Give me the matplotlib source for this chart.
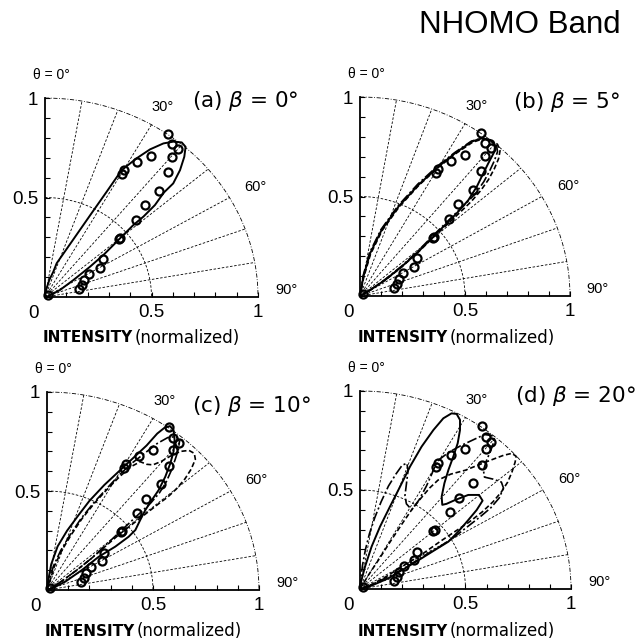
import numpy as np
import matplotlib
matplotlib.use("Agg")
import matplotlib.pyplot as plt

plt.rcParams['font.family'] = ['Liberation Sans', 'DejaVu Sans']
plt.rcParams['mathtext.fontset'] = 'custom'
plt.rcParams['mathtext.it'] = 'DejaVu Sans:italic'
plt.rcParams['mathtext.rm'] = 'DejaVu Sans'

# experimental points (same in every panel), normalized intensity components
EXP_X = [0.577, 0.595, 0.623, 0.595, 0.498, 0.433, 0.371, 0.362, 0.576, 0.537, 0.468,
         0.426, 0.354, 0.348, 0.271, 0.258, 0.207, 0.185, 0.174, 0.160, 0.016]
EXP_Y = [0.821, 0.769, 0.742, 0.705, 0.709, 0.677, 0.638, 0.616, 0.626, 0.534, 0.461,
         0.387, 0.298, 0.292, 0.189, 0.147, 0.117, 0.085, 0.062, 0.039, 0.010]

# (a) beta = 0
A_SOLID_X = [0, 0.005, 0.020, 0.039, 0.055, 0.130, 0.210, 0.290, 0.360, 0.430, 0.493, 0.556,
             0.603, 0.642, 0.660, 0.654, 0.634, 0.602, 0.558, 0.516, 0.462, 0.415, 0.368,
             0.321, 0.274, 0.211, 0.133, 0.070, 0.016, 0]
A_SOLID_Y = [0, 0.035, 0.085, 0.127, 0.170, 0.285, 0.408, 0.530, 0.638, 0.697, 0.742, 0.772,
             0.781, 0.777, 0.755, 0.705, 0.638, 0.571, 0.525, 0.462, 0.404, 0.362, 0.312,
             0.261, 0.211, 0.152, 0.085, 0.035, 0.005, 0]

# (b) beta = 5
B_SOLID_X = [0, 0.016, 0.048, 0.103, 0.183, 0.278, 0.373, 0.452, 0.532, 0.579, 0.619, 0.643,
             0.640, 0.611, 0.587, 0.556, 0.516, 0.468, 0.413, 0.349, 0.278, 0.198, 0.119, 0.048, 0]
B_SOLID_Y = [0, 0.097, 0.214, 0.332, 0.449, 0.558, 0.650, 0.717, 0.776, 0.792, 0.784, 0.759,
             0.725, 0.667, 0.616, 0.549, 0.482, 0.424, 0.365, 0.298, 0.223, 0.147, 0.080, 0.030, 0]
B_DASH_X = [0, 0.018, 0.050, 0.106, 0.186, 0.280, 0.375, 0.455, 0.535, 0.585, 0.630, 0.655,
            0.667, 0.660, 0.640, 0.612, 0.575, 0.530, 0.478, 0.420, 0.352, 0.280, 0.200, 0.120, 0.050, 0]
B_DASH_Y = [0, 0.095, 0.210, 0.330, 0.447, 0.556, 0.648, 0.715, 0.772, 0.790, 0.782, 0.762,
            0.730, 0.690, 0.640, 0.585, 0.530, 0.475, 0.422, 0.364, 0.298, 0.223, 0.147, 0.080, 0.030, 0]
B_DDOT_X = [0, 0.014, 0.045, 0.100, 0.180, 0.275, 0.370, 0.450, 0.530, 0.580, 0.625, 0.650,
            0.655, 0.640, 0.618, 0.590, 0.550, 0.505, 0.455, 0.400, 0.340, 0.275, 0.198, 0.118, 0.048, 0]
B_DDOT_Y = [0, 0.098, 0.216, 0.334, 0.452, 0.562, 0.654, 0.720, 0.778, 0.793, 0.784, 0.760,
            0.725, 0.680, 0.630, 0.575, 0.515, 0.465, 0.415, 0.358, 0.295, 0.225, 0.150, 0.082, 0.030, 0]

# (c) beta = 10
C_SOLID_X = [0, 0.006, 0.020, 0.050, 0.095, 0.150, 0.200, 0.270, 0.340, 0.410, 0.470, 0.520,
             0.555, 0.580, 0.597, 0.602, 0.597, 0.582, 0.558, 0.527, 0.495, 0.464, 0.440,
             0.417, 0.385, 0.322, 0.244, 0.165, 0.086, 0.024, 0]
C_SOLID_Y = [0, 0.050, 0.130, 0.220, 0.300, 0.380, 0.450, 0.530, 0.600, 0.670, 0.730, 0.790,
             0.820, 0.828, 0.808, 0.758, 0.699, 0.640, 0.572, 0.505, 0.455, 0.404, 0.354,
             0.303, 0.269, 0.219, 0.168, 0.101, 0.042, 0.008, 0]
C_DDOT_X = [0, 0.012, 0.030, 0.065, 0.110, 0.160, 0.220, 0.280, 0.340, 0.400, 0.460, 0.520,
            0.570, 0.610, 0.625, 0.620, 0.605, 0.585, 0.560, 0.530, 0.490, 0.440, 0.390,
            0.340, 0.280, 0.210, 0.140, 0.070, 0.020, 0]
C_DDOT_Y = [0, 0.050, 0.120, 0.200, 0.280, 0.360, 0.440, 0.510, 0.580, 0.640, 0.690, 0.740,
            0.770, 0.775, 0.750, 0.710, 0.660, 0.600, 0.540, 0.490, 0.440, 0.390, 0.340,
            0.290, 0.230, 0.160, 0.100, 0.045, 0.010, 0]
C_DASH_X = [0, 0.015, 0.035, 0.070, 0.115, 0.165, 0.225, 0.285, 0.345, 0.400, 0.440, 0.470,
            0.500, 0.540, 0.580, 0.630, 0.670, 0.695, 0.700, 0.680, 0.650, 0.610, 0.570,
            0.520, 0.460, 0.400, 0.340, 0.280, 0.210, 0.140, 0.070, 0.020, 0]
C_DASH_Y = [0, 0.050, 0.120, 0.200, 0.280, 0.360, 0.440, 0.510, 0.575, 0.625, 0.648, 0.635,
            0.632, 0.650, 0.675, 0.700, 0.705, 0.690, 0.660, 0.610, 0.560, 0.510, 0.470,
            0.430, 0.380, 0.330, 0.280, 0.225, 0.160, 0.100, 0.045, 0.010, 0]

# (d) beta = 20
D_SOLID_X = [0, 0.005, 0.024, 0.055, 0.095, 0.142, 0.190, 0.237, 0.292, 0.348, 0.395, 0.434,
             0.458, 0.474, 0.474, 0.463, 0.442, 0.419, 0.400, 0.387, 0.390, 0.410, 0.450,
             0.513, 0.564, 0.581, 0.553, 0.513, 0.466, 0.419, 0.355, 0.292, 0.213, 0.134, 0.055, 0]
D_SOLID_Y = [0, 0.037, 0.113, 0.214, 0.315, 0.416, 0.517, 0.618, 0.719, 0.803, 0.862, 0.887,
             0.884, 0.854, 0.803, 0.736, 0.668, 0.601, 0.534, 0.466, 0.425, 0.430, 0.449,
             0.475, 0.475, 0.446, 0.399, 0.348, 0.290, 0.239, 0.197, 0.155, 0.104, 0.054, 0.017, 0]
D_DDOT_X = [0, 0.004, 0.012, 0.026, 0.045, 0.070, 0.100, 0.135, 0.170, 0.200, 0.222, 0.228,
            0.220, 0.213, 0.220, 0.245, 0.280, 0.315, 0.340, 0.365, 0.420, 0.480, 0.540,
            0.590, 0.625, 0.635, 0.620, 0.600, 0.585, 0.590, 0.630, 0.670, 0.680, 0.660,
            0.620, 0.570, 0.510, 0.450, 0.380, 0.300, 0.210, 0.120, 0.050, 0]
D_DDOT_Y = [0, 0.050, 0.120, 0.200, 0.280, 0.360, 0.440, 0.520, 0.580, 0.625, 0.635, 0.600,
            0.530, 0.470, 0.430, 0.400, 0.450, 0.520, 0.580, 0.645, 0.690, 0.725, 0.755,
            0.780, 0.775, 0.745, 0.700, 0.650, 0.600, 0.565, 0.555, 0.540, 0.510, 0.460,
            0.410, 0.365, 0.315, 0.265, 0.215, 0.165, 0.105, 0.055, 0.018, 0]
D_DASH_X = [0, 0.040, 0.090, 0.150, 0.200, 0.245, 0.290, 0.330, 0.370, 0.430, 0.500, 0.570,
            0.630, 0.680, 0.720, 0.740, 0.735, 0.720, 0.700, 0.670, 0.630, 0.580, 0.520,
            0.450, 0.380, 0.300, 0.210, 0.120, 0.050, 0]
D_DASH_Y = [0, 0.070, 0.150, 0.250, 0.330, 0.400, 0.460, 0.510, 0.550, 0.580, 0.600, 0.630,
            0.655, 0.675, 0.685, 0.670, 0.640, 0.590, 0.540, 0.490, 0.440, 0.390, 0.340,
            0.290, 0.240, 0.180, 0.120, 0.060, 0.020, 0]

GRID_ANGLES = [10, 20, 30, 40, 50, 60, 70, 80]

SOLID = dict(ls='-', lw=1.4)
DASH = dict(ls=(0, (3, 1.6)), lw=1.2)
DDOT = dict(ls=(0, (6, 1.6, 1.2, 1.6)), lw=1.2)

PANELS = [
    # axes rect, label, label pos, curves
    ([0.0702, 0.5359, 0.3323, 0.3109], r'(a) $\beta$ = 0°', (0.69, 0.985),
     [(A_SOLID_X, A_SOLID_Y, SOLID)]),
    ([0.5616, 0.5375, 0.3276, 0.3109], r'(b) $\beta$ = 5°', (0.73, 0.975),
     [(B_DASH_X, B_DASH_Y, DASH), (B_DDOT_X, B_DDOT_Y, DDOT), (B_SOLID_X, B_SOLID_Y, SOLID)]),
    ([0.0733, 0.0781, 0.3307, 0.3094], r'(c) $\beta$ = 10°', (0.684, 0.93),
     [(C_DASH_X, C_DASH_Y, DASH), (C_DDOT_X, C_DDOT_Y, DDOT), (C_SOLID_X, C_SOLID_Y, SOLID)]),
    ([0.5616, 0.0797, 0.3292, 0.3094], r'(d) $\beta$ = 20°', (0.735, 0.975),
     [(D_DASH_X, D_DASH_Y, DASH), (D_DDOT_X, D_DDOT_Y, DDOT), (D_SOLID_X, D_SOLID_Y, SOLID)]),
]


def setup_axes(ax):
    ax.set_xlim(0, 1)
    ax.set_ylim(0, 1)
    for s in ['top', 'right']:
        ax.spines[s].set_visible(False)
    for s in ['left', 'bottom']:
        ax.spines[s].set_linewidth(1.3)
    ticks = np.round(np.arange(0, 1.01, 0.1), 1)
    names = {0.5: '0.5', 1.0: '1'}
    ax.set_xticks(ticks)
    ax.set_yticks(ticks)
    ax.set_xticklabels([names.get(t, '') for t in ticks])
    ax.set_yticklabels([names.get(t, '') for t in ticks])
    ax.tick_params(direction='in', length=3.5, width=0.8, labelsize=13.5, pad=5)
    ax.text(-0.055, -0.04, '0', ha='center', va='top', fontsize=13.5)

    t = np.radians(np.linspace(0, 90, 181))
    ax.plot(np.sin(t), np.cos(t), color='k', lw=0.6, ls=(0, (5, 2, 1, 2)), clip_on=False)
    ax.plot(0.5 * np.sin(t), 0.5 * np.cos(t), color='k', lw=0.6, ls=(0, (3, 2)))
    for a in GRID_ANGLES:
        r = np.radians(a)
        ax.plot([0, np.sin(r)], [0, np.cos(r)], color='k', lw=0.6, ls=(0, (3, 2)))

    ax.text(0.03, 1.115, 'θ = 0°', ha='center', va='center', fontsize=10)
    ax.text(0.554, 0.955, '30°', ha='center', va='center', fontsize=10.5)
    ax.text(0.99, 0.555, '60°', ha='center', va='center', fontsize=10.5)
    ax.text(1.133, 0.035, '90°', ha='center', va='center', fontsize=10.5)


fig = plt.figure(figsize=(6.41, 6.40), dpi=100)

for rect, label, lpos, curves in PANELS:
    ax = fig.add_axes(rect)
    setup_axes(ax)
    for xs, ys, st in curves:
        ax.plot(xs, ys, color='k', clip_on=False, **st)
    ax.plot(EXP_X, EXP_Y, 'o', mfc='none', mec='k', ms=5.8, mew=1.6, clip_on=False, zorder=5)
    ax.text(lpos[0], lpos[1], label, ha='left', va='center', fontsize=15.5, family='DejaVu Sans')

# axis captions
for xj, yc in [(0.2075, 0.472), (0.699, 0.472), (0.2106, 0.014), (0.699, 0.014)]:
    fig.text(xj, yc, 'INTENSITY', ha='right', va='center', fontsize=11,
             fontweight='bold', family='DejaVu Sans')
    fig.text(xj + 0.002, yc, '(normalized)', ha='left', va='center', fontsize=12,
             family='DejaVu Sans')

fig.text(0.811, 0.961, 'NHOMO Band', ha='center', va='center', fontsize=22.5)

fig.savefig('out.png', dpi=100)
